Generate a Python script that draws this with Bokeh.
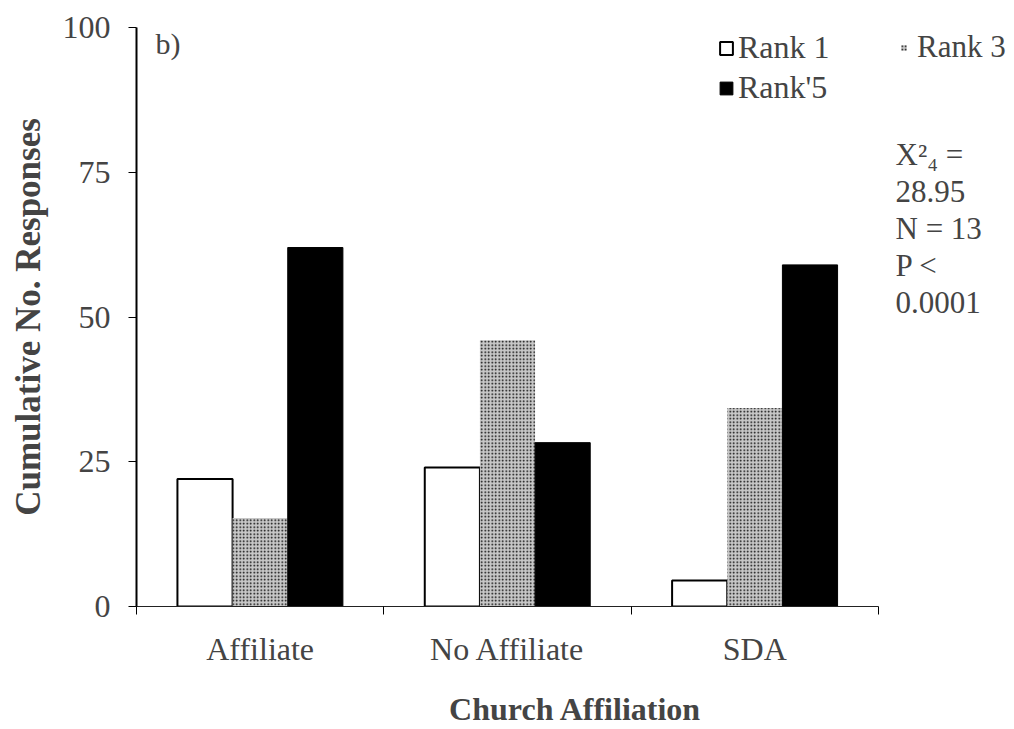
from bokeh.plotting import figure
from bokeh.models import (ColumnDataSource, FixedTicker, Legend, LegendItem, Label, Range1d)
from bokeh.embed import file_html
from bokeh.resources import INLINE

# ---- data ----
categories = ["Affiliate", "No Affiliate", "SDA"]
rank1 = [22, 24, 4.5]
rank3 = [15.3, 46, 34.3]
rank5 = [62, 28.3, 59]
y_ticks = [0, 25, 50, 75, 100]
stats_lines = ["X\u00b2\u2084 =", "28.95", "N = 13", "P <", "0.0001"]

FONT = "Liberation Serif"
n = len(categories)
centers = [i + 0.5 for i in range(n)]
off = 0.223
bw = 0.223

W, H = 1014, 729
frame_left = 136
frame_right = W
frame_w = frame_right - frame_left
unit_px = 742 / n
x_max = frame_w / unit_px

p = figure(width=W, height=H, output_backend="svg", toolbar_location=None,
           x_range=Range1d(0, x_max), y_range=Range1d(0, 100),
           min_border_left=frame_left, min_border_right=0, min_border_top=27,
           min_border_bottom=122)
p.outline_line_color = None
p.grid.grid_line_color = None
p.background_fill_color = "white"

s1 = ColumnDataSource(dict(x=[c - off for c in centers], top=rank1))
s3 = ColumnDataSource(dict(x=centers, top=rank3))
s5 = ColumnDataSource(dict(x=[c + off for c in centers], top=rank5))

r1 = p.vbar(x="x", top="top", width=bw, source=s1, fill_color="white",
            line_color="black", line_width=2)
r3 = p.vbar(x="x", top="top", width=bw, source=s3, fill_color="#c8c8c8",
            line_color=None, hatch_pattern="dot", hatch_color="#000000",
            hatch_scale=3.5, hatch_weight=1.5)
r5 = p.vbar(x="x", top="top", width=bw, source=s5, fill_color="black",
            line_color="black")

# axes
xa = p.xaxis[0]
xa.bounds = (0, n)
xa.ticker = FixedTicker(ticks=centers, minor_ticks=list(range(n + 1)))
xa.major_label_overrides = {c: name for c, name in zip(centers, categories)}
xa.major_tick_line_color = None
xa.minor_tick_line_color = "black"
xa.minor_tick_out = 8
xa.minor_tick_in = 0
xa.axis_line_width = 1
xa.axis_line_color = "#222222"
xa.major_label_text_font = FONT
xa.major_label_text_font_size = "32px"
xa.major_label_standoff = 16
xa.axis_label = "Church Affiliation"
xa.axis_label_text_font = FONT
xa.axis_label_text_font_style = "bold"
xa.axis_label_text_font_size = "32px"
xa.axis_label_standoff = 21

ya = p.yaxis[0]
ya.ticker = FixedTicker(ticks=y_ticks)
ya.minor_tick_line_color = None
ya.major_tick_out = 8
ya.major_tick_in = 0
ya.axis_line_width = 2
ya.major_label_text_font = FONT
ya.major_label_text_font_size = "32px"
ya.major_label_standoff = 18
ya.axis_label = "Cumulative No. Responses"
ya.axis_label_text_font = FONT
ya.axis_label_text_font_style = "bold"
ya.axis_label_text_font_size = "35px"
ya.axis_label_standoff = 12

# legends
legA = Legend(items=[LegendItem(label="Rank 1", renderers=[r1]),
                     LegendItem(label="Rank'5", renderers=[r5])],
              location=(582, 500), border_line_color=None, background_fill_alpha=0,
              padding=0, margin=0, spacing=3, label_standoff=4,
              glyph_width=16, glyph_height=16,
              label_text_font=FONT, label_text_font_size="32px")
legB = Legend(items=[LegendItem(label="Rank 3", renderers=[r3])],
              location=(764, 541), border_line_color=None, background_fill_alpha=0,
              padding=0, margin=0, label_standoff=10,
              glyph_width=7, glyph_height=7,
              label_text_font=FONT, label_text_font_size="31px")
p.add_layout(legA)
p.add_layout(legB)

p.add_layout(Label(x=19, y=580, x_units="screen", y_units="screen", text="b)",
                   text_baseline="top", text_font=FONT, text_font_size="30px"))
for i, t in enumerate(stats_lines):
    p.add_layout(Label(x=759, y=452 - i * 37, x_units="screen", y_units="screen",
                       text=t, text_baseline="middle", text_font=FONT,
                       text_font_size="31px"))

open("out.html", "w").write(file_html(p, INLINE))
